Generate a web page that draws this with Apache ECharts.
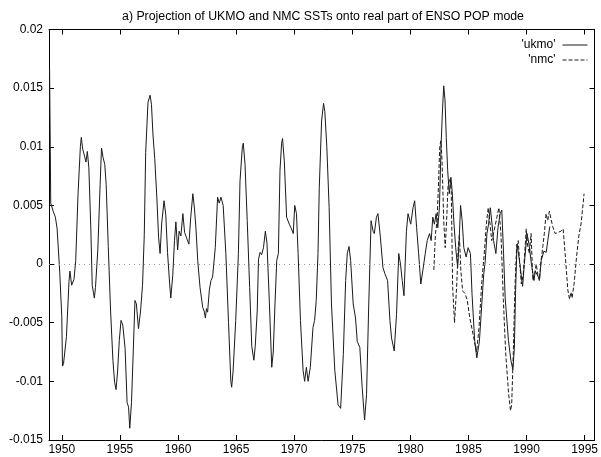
<!DOCTYPE html>
<html><head><meta charset="utf-8">
<script src="https://cdn.jsdelivr.net/npm/echarts@6/dist/echarts.min.js"></script>
<style>html,body{margin:0;padding:0;background:#fff}#c{width:601px;height:457px}</style>
</head><body><div id="c"></div>
<script>
// ---- data ----
const titleText = "a) Projection of UKMO and NMC SSTs onto real part of ENSO POP mode";
const xTicks = [1950, 1955, 1960, 1965, 1970, 1975, 1980, 1985, 1990, 1995];
const yTicks = [-0.015, -0.01, -0.005, 0, 0.005, 0.01, 0.015, 0.02];
const yTickLabels = ["-0.015", "-0.01", "-0.005", "0", "0.005", "0.01", "0.015", "0.02"];

const ukmoYears = [1948.95,1949.05,1949.26,1949.45,1949.6,1949.83,1950.0,1950.06,1950.15,1950.4,1950.62,1950.7,1950.85,1951.05,1951.2,1951.4,1951.6,1951.68,1951.8,1951.96,1952.08,1952.2,1952.33,1952.5,1952.62,1952.72,1952.8,1952.9,1953.1,1953.3,1953.42,1953.55,1953.7,1953.82,1954.0,1954.2,1954.4,1954.55,1954.67,1954.8,1954.95,1955.1,1955.25,1955.45,1955.62,1955.75,1955.85,1956.0,1956.15,1956.3,1956.42,1956.6,1956.78,1956.95,1957.1,1957.22,1957.42,1957.6,1957.72,1957.85,1958.0,1958.18,1958.33,1958.46,1958.6,1958.8,1958.95,1959.1,1959.25,1959.38,1959.55,1959.7,1959.82,1959.97,1960.1,1960.25,1960.42,1960.57,1960.75,1960.94,1961.1,1961.28,1961.42,1961.55,1961.7,1961.9,1962.13,1962.25,1962.36,1962.45,1962.55,1962.7,1962.84,1962.98,1963.21,1963.41,1963.55,1963.7,1963.89,1964.12,1964.35,1964.55,1964.62,1964.74,1964.97,1965.2,1965.34,1965.54,1965.62,1965.77,1965.96,1966.17,1966.35,1966.53,1966.65,1966.82,1966.93,1967.07,1967.2,1967.36,1967.52,1967.66,1967.87,1968.07,1968.2,1968.35,1968.5,1968.64,1968.78,1968.92,1969.0,1969.15,1969.35,1969.58,1969.77,1969.92,1970.05,1970.2,1970.34,1970.54,1970.77,1970.9,1971.05,1971.2,1971.39,1971.62,1971.76,1971.9,1972.05,1972.16,1972.36,1972.53,1972.64,1972.81,1973.01,1973.21,1973.5,1973.78,1974.0,1974.23,1974.43,1974.57,1974.72,1974.86,1975.08,1975.28,1975.43,1975.65,1975.85,1976.06,1976.23,1976.42,1976.62,1976.79,1976.9,1977.08,1977.21,1977.42,1977.64,1977.8,1978.04,1978.24,1978.38,1978.61,1978.81,1979.0,1979.15,1979.3,1979.45,1979.66,1979.8,1980.03,1980.23,1980.37,1980.54,1980.71,1980.9,1981.08,1981.28,1981.45,1981.65,1981.79,1981.93,1982.07,1982.22,1982.36,1982.5,1982.64,1982.75,1982.87,1982.98,1983.09,1983.21,1983.35,1983.49,1983.6,1983.75,1983.9,1984.07,1984.2,1984.32,1984.46,1984.6,1984.8,1984.97,1985.17,1985.31,1985.54,1985.72,1985.94,1986.11,1986.31,1986.45,1986.59,1986.73,1986.88,1987.02,1987.16,1987.36,1987.54,1987.73,1987.87,1988.02,1988.16,1988.44,1988.65,1988.82,1988.95,1989.05,1989.18,1989.32,1989.46,1989.66,1989.85,1990.04,1990.21,1990.42,1990.64,1990.75,1990.92,1991.12,1991.26,1991.49,1991.69,1991.83,1992.0];
const ukmoValues = [0.0166,0.0052,0.0045,0.0040,0.0030,-0.0008,-0.0045,-0.0087,-0.0085,-0.0062,-0.0015,-0.0006,-0.0018,-0.0013,0.0003,0.0060,0.0100,0.0108,0.0098,0.0092,0.0087,0.0096,0.0082,0.0030,-0.0018,-0.0024,-0.0029,-0.0020,0.0012,0.0068,0.0099,0.0091,0.0085,0.0068,0.0015,-0.0040,-0.0082,-0.0101,-0.0107,-0.0092,-0.0065,-0.0048,-0.0052,-0.0072,-0.0118,-0.0122,-0.0140,-0.0118,-0.0075,-0.0031,-0.0034,-0.0055,-0.0040,-0.0018,0.0025,0.0095,0.0138,0.0144,0.0136,0.0110,0.0090,0.0057,0.0023,0.0009,0.0035,0.0054,0.0042,0.0010,-0.0012,-0.0029,-0.0010,0.0020,0.0036,0.0012,0.0028,0.0024,0.0043,0.0027,0.0022,0.0017,0.0040,0.0060,0.0047,0.0030,0.0003,-0.0020,-0.0037,-0.0040,-0.0046,-0.0038,-0.0041,-0.0022,-0.0014,-0.0011,0.0014,0.0057,0.0052,0.0057,0.0050,0.0009,-0.0050,-0.0100,-0.0105,-0.0092,-0.0048,0.0009,0.0071,0.0100,0.0103,0.0085,0.0037,-0.0020,-0.0070,-0.0082,-0.0070,-0.0040,0.0004,0.0010,0.0008,0.0014,0.0028,0.0018,-0.0034,-0.0088,-0.0075,-0.0034,0.0003,0.0009,0.0080,0.0103,0.0107,0.0088,0.0040,0.0034,0.0030,0.0026,0.0050,0.0043,0.0009,-0.0048,-0.0091,-0.0100,-0.0088,-0.0100,-0.0088,-0.0054,-0.0048,-0.0031,0.0009,0.0065,0.0122,0.0137,0.0130,0.0100,0.0048,-0.0034,-0.0091,-0.0120,-0.0123,-0.0077,-0.0014,0.0009,0.0015,0.0003,-0.0034,-0.0046,-0.0066,-0.0071,-0.0105,-0.0133,-0.0111,-0.0034,0.0037,0.0028,0.0026,0.0040,0.0043,0.0023,-0.0003,-0.0008,-0.0014,-0.0048,-0.0063,-0.0074,-0.0043,0.0009,0.0000,-0.0014,-0.0027,0.0028,0.0043,0.0034,0.0048,0.0054,0.0031,0.0009,-0.0017,-0.0005,0.0009,0.0020,0.0026,0.0020,0.0040,0.0034,0.0043,0.0031,0.0048,0.0100,0.0128,0.0152,0.0140,0.0108,0.0080,0.0060,0.0074,0.0062,0.0035,0.0014,-0.0003,0.0020,0.0050,0.0037,0.0014,0.0006,0.0014,0.0009,-0.0026,-0.0066,-0.0080,-0.0066,-0.0040,-0.0009,0.0003,0.0026,0.0034,0.0048,0.0035,0.0020,0.0009,0.0031,0.0043,0.0046,0.0009,-0.0029,-0.0065,-0.0082,-0.0090,-0.0072,-0.0025,0.0017,0.0008,-0.0003,-0.0019,0.0005,0.0026,0.0017,0.0000,-0.0014,-0.0006,-0.0007,-0.0013,0.0003,0.0011,0.0010,0.0020,0.0032];

const nmcYears = [1982.02,1982.16,1982.3,1982.41,1982.53,1982.62,1982.73,1982.87,1983.0,1983.12,1983.25,1983.4,1983.52,1983.64,1983.8,1983.98,1984.12,1984.22,1984.35,1984.5,1984.7,1984.9,1985.1,1985.3,1985.5,1985.7,1985.9,1986.15,1986.35,1986.55,1986.7,1986.85,1987.0,1987.2,1987.45,1987.62,1987.8,1988.0,1988.2,1988.45,1988.62,1988.72,1988.86,1989.0,1989.14,1989.28,1989.4,1989.55,1989.7,1989.85,1989.97,1990.1,1990.25,1990.39,1990.54,1990.7,1990.83,1990.97,1991.1,1991.25,1991.4,1991.53,1991.68,1991.82,1991.96,1992.1,1992.25,1992.46,1992.7,1992.96,1993.15,1993.35,1993.55,1993.7,1993.82,1993.92,1994.1,1994.3,1994.5,1994.7,1994.95];
const nmcValues = [-0.0005,0.0026,0.0037,0.0065,0.0100,0.0105,0.0088,0.0037,0.0014,0.0037,0.0068,0.0073,0.0062,-0.0020,-0.0050,-0.0020,0.0014,0.0025,-0.0006,-0.0023,-0.0025,-0.0031,-0.0045,-0.0055,-0.0065,-0.0075,-0.0055,-0.0015,0.0008,0.0035,0.0048,0.0035,0.0020,0.0028,0.0040,0.0048,0.0025,-0.0030,-0.0075,-0.0110,-0.0125,-0.0120,-0.0075,-0.0020,0.0014,0.0020,0.0003,-0.0017,-0.0010,0.0010,0.0030,0.0015,0.0009,0.0026,-0.0014,-0.0008,0.0000,-0.0009,-0.0014,0.0003,0.0015,0.0026,0.0043,0.0037,0.0045,0.0045,0.0032,0.0026,0.0027,0.0028,0.0030,0.0005,-0.0022,-0.0030,-0.0024,-0.0029,-0.0016,0.0006,0.0024,0.0035,0.0060];

// ---- chart ----
const FONT = "'Liberation Sans', Arial, Helvetica, sans-serif";
const chart = echarts.init(document.getElementById('c'), null, {renderer: 'canvas'});
const pair = (xs, ys) => xs.map((x, i) => [x, ys[i]]);
const axisCommon = {
  axisLine: {show: true, onZero: false, lineStyle: {color: '#000', width: 1}},
  axisTick: {show: true, inside: true, length: 5, lineStyle: {color: '#000'}},
  splitLine: {show: false}
};
const legendCommon = {
  right: 13, padding: 0, align: 'right', itemWidth: 25, itemHeight: 12,
  itemStyle: {opacity: 0, borderWidth: 0},
  lineStyle: {width: 1},
  textStyle: {fontSize: 12, color: '#000', fontFamily: FONT, padding: [0, 2, 0, 0]}
};
chart.setOption({
  animation: false,
  backgroundColor: '#fff',
  textStyle: {fontFamily: FONT},
  title: {
    text: titleText, left: 323, top: 11, textAlign: 'center', padding: 0,
    textStyle: {fontSize: 12.3, fontWeight: 'normal', color: '#000', fontFamily: FONT}
  },
  legend: [
    Object.assign({data: ["'ukmo'"], top: 39}, legendCommon),
    Object.assign({data: ["'nmc'"], top: 54}, legendCommon)
  ],
  grid: {left: 49, right: 1, top: 29.5, bottom: 17},
  xAxis: [
    Object.assign({}, axisCommon, {
      type: 'value', position: 'bottom', min: 1948.9, max: 1995.85,
      axisTick: Object.assign({}, axisCommon.axisTick, {customValues: xTicks}),
      axisLabel: {customValues: xTicks, color: '#000', fontSize: 12, margin: 4, fontFamily: FONT,
                  formatter: v => String(v)}
    }),
    Object.assign({}, axisCommon, {
      type: 'value', position: 'top', min: 1948.9, max: 1995.85,
      axisTick: Object.assign({}, axisCommon.axisTick, {customValues: xTicks}),
      axisLabel: {show: false}
    })
  ],
  yAxis: [
    Object.assign({}, axisCommon, {
      type: 'value', position: 'left', min: -0.015, max: 0.02,
      axisTick: Object.assign({}, axisCommon.axisTick, {customValues: yTicks}),
      axisLabel: {customValues: yTicks, color: '#000', fontSize: 12, margin: 6, fontFamily: FONT,
                  formatter: v => { const i = yTicks.findIndex(t => Math.abs(t - v) < 1e-9); return i >= 0 ? yTickLabels[i] : ''; }}
    }),
    Object.assign({}, axisCommon, {
      type: 'value', position: 'right', min: -0.015, max: 0.02,
      axisTick: Object.assign({}, axisCommon.axisTick, {customValues: yTicks}),
      axisLabel: {show: false}
    })
  ],
  series: [
    {
      name: "'ukmo'", type: 'line', xAxisIndex: 0, yAxisIndex: 0,
      data: pair(ukmoYears, ukmoValues), showSymbol: false, symbol: 'none',
      lineStyle: {color: '#1a1a1a', width: 1}, itemStyle: {color: '#1a1a1a'},
      markLine: {
        silent: true, symbol: 'none', label: {show: false},
        lineStyle: {color: '#999', type: [1, 4], width: 1},
        data: [{yAxis: 0}]
      },
      z: 3
    },
    {
      name: "'nmc'", type: 'line', xAxisIndex: 0, yAxisIndex: 0,
      data: pair(nmcYears, nmcValues), showSymbol: false, symbol: 'none',
      lineStyle: {color: '#1a1a1a', width: 1, type: [4, 2]}, itemStyle: {color: '#1a1a1a'},
      z: 2
    }
  ]
});
</script></body></html>
